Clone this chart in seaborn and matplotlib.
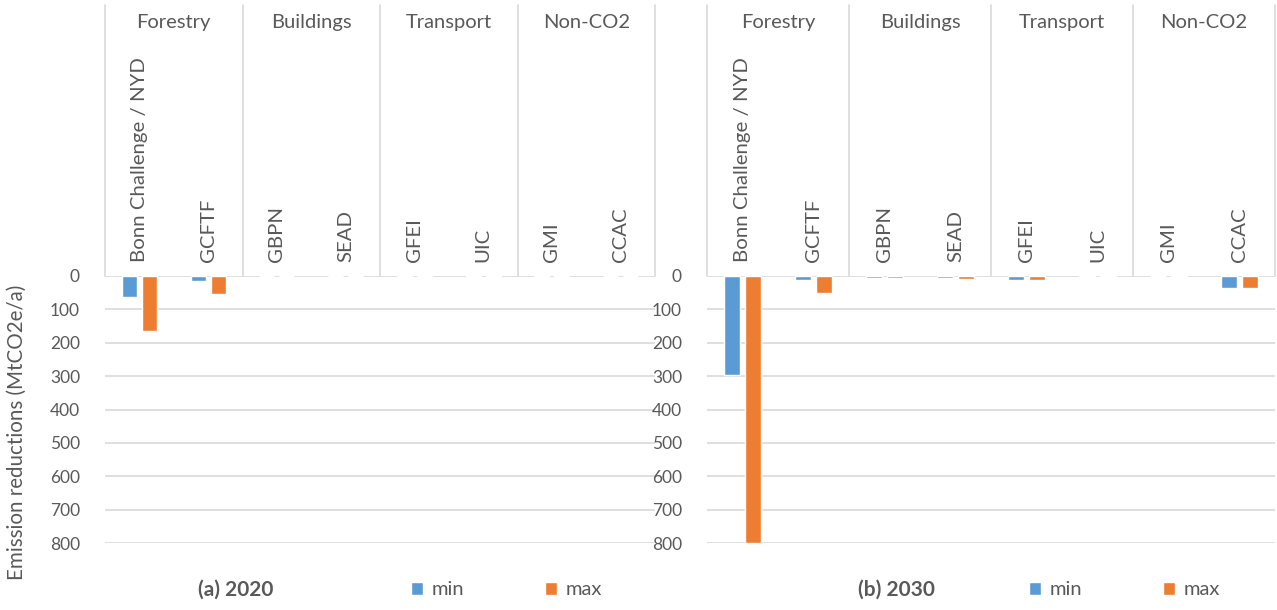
import matplotlib
matplotlib.use("Agg")
import matplotlib.pyplot as plt
import seaborn as sns
import pandas as pd

groups = ["Forestry", "Buildings", "Transport", "Non-CO2"]
initiatives_2020 = ["Bonn Challenge / NYD", "GCFTF", "GBPN", "SEAD", "GFEI", "UIC", "GMI", "CCAC"]
initiatives_2030 = ["Bonn Challenge / NYD", "GCFTF", "GBPN", "SEAD", "GFEI", "UIC", "GMI", "CCAC"]
min_2020 = [63, 15, 0, 0, 2, 2, 2, 0]
max_2020 = [165, 55, 0, 0, 2, 2, 2, 0]
min_2030 = [298, 13, 5, 5, 13, 4, 0, 36]
max_2030 = [800, 52, 5, 8, 13, 4, 4, 36]
series = ["min", "max"]
yticks = [0, 100, 200, 300, 400, 500, 600, 700, 800]
panel_titles = ["(a) 2020", "(b) 2030"]

sns.set_theme(style="white")
plt.rcParams["font.family"] = ["Lato", "DejaVu Sans"]

GRAY = "#595959"
GRID = "#D9D9D9"
palette = {"min": "#5B9BD5", "max": "#ED7D31"}

fig = plt.figure(figsize=(12.77, 6.10), dpi=100)
W, H = 1277, 610
panels = [
    (105, 655, initiatives_2020, min_2020, max_2020, panel_titles[0], 236, 0.73),
    (707, 1275, initiatives_2030, min_2030, max_2030, panel_titles[1], 896, 0.735),
]
y0_px, y800_px, top_px = 276, 543, 5

for left, right, cats, mn, mx, title, tx, legx in panels:
    ax = fig.add_axes([left / W, 1 - y800_px / H, (right - left) / W, (y800_px - y0_px) / H])
    df = pd.DataFrame({
        "cat": cats * 2,
        "series": ["min"] * len(cats) + ["max"] * len(cats),
        "value": mn + mx,
    })
    sns.barplot(data=df, x="cat", y="value", hue="series", hue_order=series,
                order=cats, palette=palette, width=0.58, gap=0.25,
                saturation=1, ax=ax, legend=True)
    ax.set_ylim(800, 0)
    ax.set_xlim(-0.5, len(cats) - 0.5)
    ax.set_yticks(yticks)
    ax.set_yticklabels([str(v) for v in yticks], color=GRAY, fontsize=12.5)
    ax.tick_params(axis="y", length=0, pad=18)
    ax.set_xticks([])
    ax.set_xlabel("")
    ax.set_ylabel("")
    for s in ax.spines.values():
        s.set_visible(False)
    for v in yticks:
        ax.axhline(v, color=GRID, lw=1.2, zorder=0)
    # category area
    ytop = (y800_px - top_px) / (y800_px - y0_px)
    n = len(cats)
    for k in range(0, n + 1, 2):
        xb = k - 0.5
        ax.plot([xb, xb], [1, ytop], color=GRID, lw=1.2, clip_on=False,
                transform=ax.get_xaxis_transform())
    for i, c in enumerate(cats):
        ax.text(i, 1.052, c, rotation=90, ha="center", va="bottom", fontsize=14.7,
                color=GRAY, transform=ax.get_xaxis_transform())
    for g, name in enumerate(groups):
        ax.text(2 * g + 0.5, 1.951, name, ha="center", va="center", fontsize=14.5,
                color=GRAY, transform=ax.get_xaxis_transform())
    ax.text((tx - left) / (right - left), -0.176, title, ha="center", va="center",
            fontsize=15, fontweight="bold", color=GRAY, transform=ax.transAxes)
    leg = ax.legend(loc="center", bbox_to_anchor=(legx, -0.176), ncol=2, frameon=False,
                    handlelength=0.6, handleheight=0.6, columnspacing=4.0,
                    handletextpad=0.45, fontsize=14.5, borderaxespad=0)
    for t in leg.get_texts():
        t.set_color(GRAY)

fig.text(17 / W, 1 - 432 / H, "Emission reductions (MtCO2e/a)", rotation=90,
         ha="center", va="center", fontsize=14.8, color=GRAY)

fig.savefig("out.png", dpi=100)
